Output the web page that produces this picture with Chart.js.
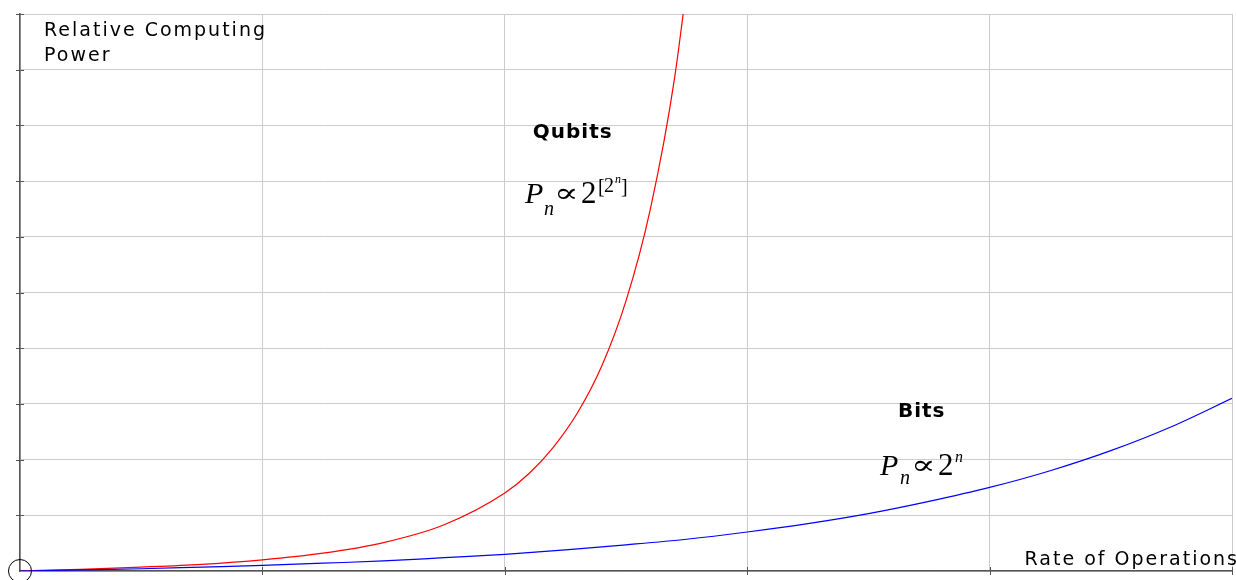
<!DOCTYPE html>
<html>
<head>
<meta charset="utf-8">
<script src="https://cdn.jsdelivr.net/npm/chart.js@4"></script>
<style>
  html, body { margin: 0; padding: 0; background: #fff; }
  #wrap { width: 1236px; height: 580px; }
</style>
</head>
<body>
<div id="wrap"><canvas id="myChart" width="1236" height="580"></canvas></div>
<script>
// values (x = rate of operations, y = relative power)
const bitsX = [0, 0.25, 0.5, 0.75, 1, 1.25, 1.5, 1.75, 2, 2.25, 2.5, 2.75, 3, 3.25, 3.5, 3.75, 4, 4.25, 4.5, 4.75, 5];
const bitsY = [0, 0.02, 0.04, 0.07, 0.1, 0.14, 0.18, 0.24, 0.3, 0.38, 0.47, 0.57, 0.7, 0.85, 1.03, 1.25, 1.5, 1.8, 2.16, 2.59, 3.1];
const qubitsX = [0, 0.25, 0.5, 0.75, 1, 1.25, 1.5, 1.75, 2, 2.1, 2.2, 2.3, 2.4, 2.5, 2.6, 2.7, 2.8];
const qubitsY = [0, 0.03, 0.07, 0.12, 0.2, 0.32, 0.51, 0.83, 1.4, 1.75, 2.22, 2.84, 3.68, 4.85, 6.49, 8.84, 12.3];
const xTicks = [0, 1, 2, 3, 4, 5];
const yTicks = [0, 1, 2, 3, 4, 5, 6, 7, 8, 9, 10];

const toPoints = (xs, ys) => xs.map((x, i) => ({x: x, y: ys[i]}));

const axisColor = '#555555';
const gridColor = '#cccccc';
const serif = '"Liberation Serif"';
const propFont = '27px "DejaVu Serif"';

// formula pieces: [text, font, dx, dy, x-stretch]
const qubitsFormula = [
    ['P', 'italic 30px ' + serif, 0, 0],
    ['n', 'italic 20px ' + serif, 19, 12],
    ['\u221D', propFont, 29, -1, 1.35],
    ['2', '31px ' + serif, 56, 0],
    ['[', '20px ' + serif, 73, -10],
    ['2', '20px ' + serif, 79, -11],
    ['n', 'italic 12px ' + serif, 90, -20],
    [']', '20px ' + serif, 96, -10]
];
const bitsFormula = [
    ['P', 'italic 30px ' + serif, 0, 0],
    ['n', 'italic 20px ' + serif, 20, 9],
    ['\u221D', propFont, 31, -1, 1.35],
    ['2', '31px ' + serif, 58, 0],
    ['n', 'italic 16px ' + serif, 75, -13]
];

// labels, formulas, tick marks and the little circle at the origin
const extras = {
    id: 'extras',
    afterDraw(chart) {
        const ctx = chart.ctx;
        const xs = chart.scales.x;
        const ys = chart.scales.y;
        const area = chart.chartArea;

        ctx.save();
        ctx.strokeStyle = axisColor;
        ctx.lineWidth = 1;
        xTicks.forEach(v => {
            if (v === 0) return;
            const px = Math.round(xs.getPixelForValue(v)) + 0.5;
            ctx.beginPath();
            ctx.moveTo(px, area.bottom - 4);
            ctx.lineTo(px, area.bottom + 4);
            ctx.stroke();
        });
        yTicks.forEach(v => {
            if (v === 0) return;
            const py = Math.round(ys.getPixelForValue(v)) + 0.5;
            ctx.beginPath();
            ctx.moveTo(area.left - 4, py);
            ctx.lineTo(area.left + 4, py);
            ctx.stroke();
        });

        ctx.strokeStyle = '#000';
        ctx.beginPath();
        ctx.arc(xs.getPixelForValue(0), ys.getPixelForValue(0), 11.5, 0, Math.PI * 2);
        ctx.stroke();

        ctx.fillStyle = '#000';
        ctx.font = '19px "DejaVu Sans"';
        ctx.letterSpacing = '2px';
        ctx.textBaseline = 'middle';
        ctx.textAlign = 'left';
        ctx.fillText('Relative Computing', area.left + 24, 31);
        ctx.fillText('Power', area.left + 24, 56);
        ctx.textAlign = 'right';
        ctx.fillText('Rate of Operations', chart.width + 3, 560);

        ctx.font = 'bold 20px "DejaVu Sans"';
        ctx.letterSpacing = '1px';
        ctx.textAlign = 'center';
        ctx.fillText('Qubits', xs.getPixelForValue(2.28), ys.getPixelForValue(7.87));
        ctx.fillText('Bits', xs.getPixelForValue(3.72), ys.getPixelForValue(2.86));
        ctx.letterSpacing = '0px';

        function formula(x, y, parts) {
            ctx.textAlign = 'left';
            ctx.textBaseline = 'alphabetic';
            parts.forEach(p => {
                ctx.font = p[1];
                ctx.save();
                ctx.translate(x + p[2], y + p[3]);
                ctx.scale(p[4] || 1, 1);
                ctx.fillText(p[0], 0, 0);
                ctx.restore();
            });
        }
        formula(xs.getPixelForValue(2.083), ys.getPixelForValue(6.607), qubitsFormula);
        formula(xs.getPixelForValue(3.548), ys.getPixelForValue(1.724), bitsFormula);
        ctx.restore();
    }
};

const ctx = document.getElementById('myChart').getContext('2d');

const myChart = new Chart(ctx, {
    type: 'line',
    data: {
        datasets: [{
            label: 'Bits',
            data: toPoints(bitsX, bitsY),
            borderColor: '#0000ff',
            backgroundColor: '#0000ff',
            borderWidth: 1.2,
            pointRadius: 0,
            cubicInterpolationMode: 'monotone',
            fill: false,
            clip: 0
        }, {
            label: 'Qubits',
            data: toPoints(qubitsX, qubitsY),
            borderColor: '#ff0000',
            backgroundColor: '#ff0000',
            borderWidth: 1.2,
            pointRadius: 0,
            cubicInterpolationMode: 'monotone',
            fill: false,
            clip: 0
        }]
    },
    options: {
        responsive: false,
        maintainAspectRatio: false,
        animation: false,
        layout: {
            padding: {left: 20, top: 14, right: 4, bottom: 9}
        },
        scales: {
            x: {
                type: 'linear',
                min: 0,
                max: 5,
                ticks: {display: false, stepSize: 1},
                grid: {color: gridColor, drawTicks: false},
                border: {color: axisColor, width: 1.5}
            },
            y: {
                min: 0,
                max: 10,
                ticks: {display: false, stepSize: 1},
                grid: {color: gridColor, drawTicks: false},
                border: {color: axisColor, width: 1.5}
            }
        },
        plugins: {
            legend: {display: false},
            tooltip: {enabled: false}
        }
    },
    plugins: [extras]
});
</script>
</body>
</html>
